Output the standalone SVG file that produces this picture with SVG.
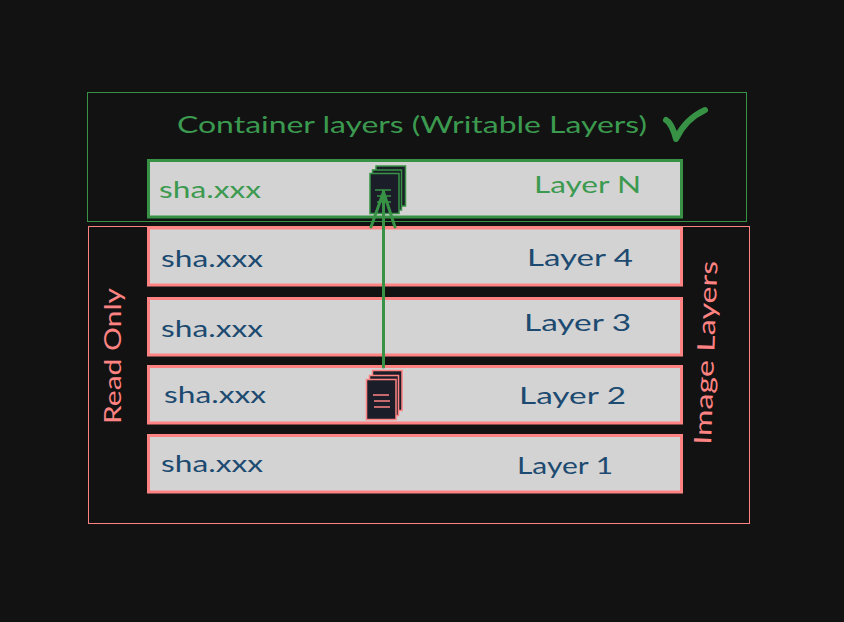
<svg xmlns="http://www.w3.org/2000/svg" width="844" height="622" viewBox="0 0 844 622">
<style>
text{font-family:"Lato","Open Sans","Liberation Sans",sans-serif;font-size:24px}
.g{fill:#3b9a4f}.r{fill:#ff8383}.b{fill:#1c4a70}
.lg{fill:#d3d3d3;stroke-width:3}
.sg{stroke:#379246}.sr{stroke:#ff8383}
.doc{fill:#1b1e28;stroke-width:1.5}
.ln{fill:none;stroke-width:1.5}
</style>
<rect width="844" height="622" fill="#121212"/>
<g id="container-frame"><rect x="87.5" y="92.5" width="659" height="129" fill="none" stroke="#379246"/></g>
<g id="image-frame"><rect x="88.500" y="226.500" width="661" height="297" fill="none" stroke="#ff8383"/></g>
<g id="title"><text class="g" x="177" y="133" textLength="470" lengthAdjust="spacingAndGlyphs">Container layers (Writable Layers)</text></g>
<g id="check"><path d="M666 120C670 122 674 131 676 139C682 126 692 116 705 110" fill="none" stroke="#379246" stroke-width="6" stroke-linecap="round" stroke-linejoin="round"/></g>
<g id="layer-n"><rect class="lg sg" x="148.500" y="160.500" width="533" height="56.500"/>
<text class="g" x="159" y="198" textLength="102" lengthAdjust="spacingAndGlyphs">sha.xxx</text>
<text class="g" x="534" y="193" textLength="107" lengthAdjust="spacingAndGlyphs">Layer N</text></g>
<g id="layer-4"><rect class="lg sr" x="148.500" y="228" width="533" height="57"/>
<text class="b" x="161" y="267" textLength="102" lengthAdjust="spacingAndGlyphs">sha.xxx</text>
<text class="b" x="527" y="266" textLength="106" lengthAdjust="spacingAndGlyphs">Layer 4</text></g>
<g id="layer-3"><rect class="lg sr" x="148.500" y="298.500" width="533" height="56.500"/>
<text class="b" x="161" y="337" textLength="102" lengthAdjust="spacingAndGlyphs">sha.xxx</text>
<text class="b" x="524" y="331" textLength="107" lengthAdjust="spacingAndGlyphs">Layer 3</text></g>
<g id="layer-2"><rect class="lg sr" x="148.500" y="366.500" width="533" height="56.500"/>
<text class="b" x="164" y="403" textLength="102" lengthAdjust="spacingAndGlyphs">sha.xxx</text>
<text class="b" x="519" y="404" textLength="107" lengthAdjust="spacingAndGlyphs">Layer 2</text></g>
<g id="layer-1"><rect class="lg sr" x="148.500" y="435.500" width="533" height="56.500"/>
<text class="b" x="161" y="472" textLength="102" lengthAdjust="spacingAndGlyphs">sha.xxx</text>
<text class="b" x="517" y="474" textLength="96" lengthAdjust="spacingAndGlyphs">Layer 1</text></g>
<g id="read-only"><text class="r" transform="translate(121 424) rotate(-90)" textLength="136" lengthAdjust="spacingAndGlyphs">Read Only</text></g>
<g id="image-layers"><text class="r" transform="translate(711 445) rotate(-88)" textLength="184" lengthAdjust="spacingAndGlyphs">Image Layers</text></g>
<g id="doc-green" class="sg"><rect class="doc" x="376" y="166" width="29.500" height="40"/><rect class="doc" x="372.500" y="170" width="29" height="40"/><rect class="doc" x="370" y="173.500" width="29" height="40"/>
<path class="ln" d="M375 190H391M377 196H391M377 202H391"/></g>
<g id="doc-red" class="sr"><rect class="doc" x="372.500" y="370.500" width="29.500" height="40"/><rect class="doc" x="369.500" y="375.500" width="29" height="40"/><rect class="doc" x="366.500" y="379.500" width="29.500" height="40"/>
<path class="ln" d="M373 395H389M374 401H390M374 407H390"/></g>
<g id="connectors"><path d="M383.500 367V191M371 227L383.500 192L395 227" fill="none" stroke="#379246" stroke-width="3" stroke-linecap="round" stroke-linejoin="round"/></g>
</svg>
